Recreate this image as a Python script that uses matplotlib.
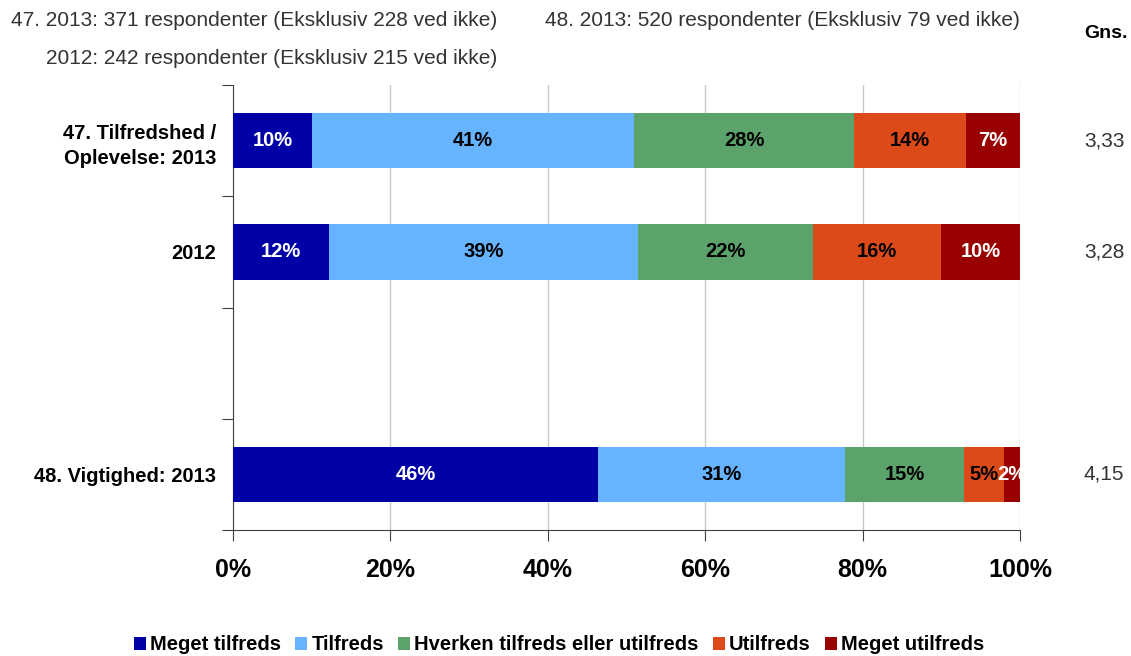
import numpy as np
import matplotlib.pyplot as plt

plt.rcParams['font.family'] = ['Liberation Sans', 'DejaVu Sans']

# =============================================================================
# Data
# =============================================================================

rows = ['47. Tilfredshed /\nOplevelse: 2013', '2012', '48. Vigtighed: 2013']
row_pos = [0, 1, 3]
categories = ['Meget tilfreds', 'Tilfreds', 'Hverken tilfreds eller utilfreds',
              'Utilfreds', 'Meget utilfreds']
values = np.array([
    [10.0, 41.0, 27.9, 14.2, 6.9],
    [12.2, 39.3, 22.2, 16.3, 10.0],
    [46.4, 31.4, 15.1, 5.1, 2.0],
])
labels = [['10%', '41%', '28%', '14%', '7%'],
          ['12%', '39%', '22%', '16%', '10%'],
          ['46%', '31%', '15%', '5%', '2%']]
gns = ['3,33', '3,28', '4,15']
colors = ['#0000A6', '#66B3FF', '#5BA36A', '#DC4A1A', '#990000']
text_colors = ['white', 'black', 'black', 'black', 'white']

# =============================================================================
# Plot
# =============================================================================

fig = plt.figure(figsize=(11.31, 6.56), dpi=100)
ax = fig.add_axes([233/1131, 1 - 530/656, (1020-233)/1131, (530-85)/656])

left = np.zeros(len(rows))
for j, cat in enumerate(categories):
    ax.barh(row_pos, values[:, j], left=left, height=0.5, color=colors[j],
            label=cat, zorder=3)
    for i in range(len(rows)):
        ax.text(left[i] + values[i, j] / 2, row_pos[i], labels[i][j],
                ha='center', va='center', fontsize=14.5, fontweight='bold',
                color=text_colors[j], zorder=4)
    left += values[:, j]

ax.set_xlim(0, 100)
ax.set_ylim(3.5, -0.5)
ax.set_xticks(np.arange(0, 101, 20))
ax.set_xticklabels([f'{v}%' for v in range(0, 101, 20)], fontsize=18,
                   fontweight='bold')
ax.set_yticks([-0.5, 0.5, 1.5, 2.5, 3.5])
ax.set_yticklabels([])
ax.set_yticks(row_pos, minor=True)
ax.set_yticklabels(rows, minor=True, fontsize=14.5, fontweight='bold',
                   ha='right', linespacing=1.45)
ax.tick_params(axis='y', which='minor', length=0, pad=12)
ax.tick_params(axis='y', which='major', length=8, direction='out',
               color='#404040')
ax.tick_params(axis='x', length=8, direction='out', pad=12, color='#404040')
ax.grid(axis='x', color='#C8C8C8', linewidth=1, zorder=0)
ax.spines['top'].set_visible(False)
ax.spines['right'].set_visible(False)
ax.spines['left'].set_color('#404040')
ax.spines['bottom'].set_color('#404040')

# Gns. column
fig.text(1106/1131, 1 - 33/656, 'Gns.', ha='center', va='center',
         fontsize=14, fontweight='bold')
for i, g in enumerate(gns):
    ax.text(1.107, row_pos[i], g, transform=ax.get_yaxis_transform(),
            ha='center', va='center', fontsize=15, color='#333333')

# Header texts
fig.text(497/1131, 1 - 20/656,
         '47. 2013: 371 respondenter (Eksklusiv 228 ved ikke)',
         ha='right', va='center', fontsize=15, color='#333333')
fig.text(497/1131, 1 - 58/656,
         '2012: 242 respondenter (Eksklusiv 215 ved ikke)',
         ha='right', va='center', fontsize=15, color='#333333')
fig.text(545/1131, 1 - 20/656,
         '48. 2013: 520 respondenter (Eksklusiv 79 ved ikke)',
         ha='left', va='center', fontsize=15, color='#333333')

lgd = fig.legend(loc='center', bbox_to_anchor=(559/1131, 1 - 645/656),
                 ncol=5, frameon=False, handlelength=0.6,
                 handleheight=0.6, handletextpad=0.2, columnspacing=0.7,
                 prop={'weight': 'bold', 'size': 14.5})

fig.savefig('out.png', dpi=100)
